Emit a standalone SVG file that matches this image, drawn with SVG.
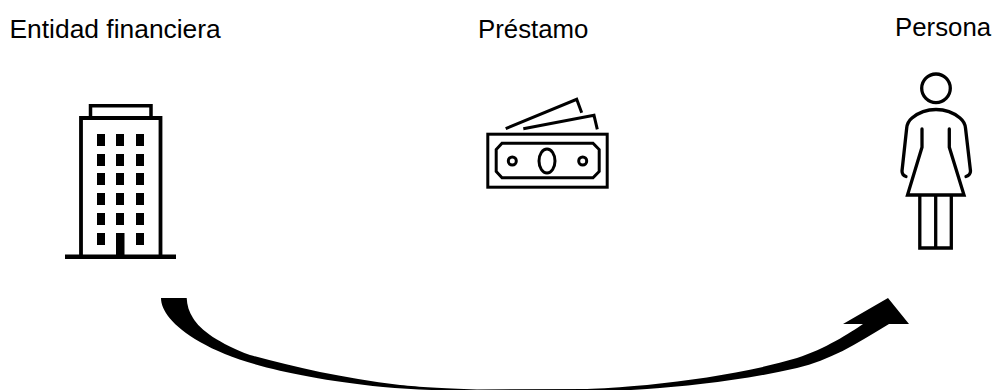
<svg xmlns="http://www.w3.org/2000/svg" width="995" height="390" viewBox="0 0 995 390">
<style>
text{font-family:"Liberation Sans",Arial,sans-serif;font-size:25.800px;fill:#000}
.l{fill:none;stroke:#000;stroke-width:3.300}
.b{fill:none;stroke:#000;stroke-width:3}
.w{fill:#000}
</style>
<rect width="995" height="390" fill="#fff"/>
<g id="entidad">
<text x="9.500" y="38" font-size="26.400" style="font-size:26.400px">Entidad financiera</text>
<rect class="w" x="65" y="254.500" width="111" height="4.500"/>
<path d="M81 255V118H160.500V255" fill="none" stroke="#000" stroke-width="3.800"/>
<path d="M90.500 116V105.700H151V116" fill="none" stroke="#000" stroke-width="3.500"/>
<g class="w">
<rect x="97" y="134" width="8" height="12"/><rect x="116" y="134" width="8" height="12"/><rect x="136" y="134" width="8" height="12"/>
<rect x="97" y="154" width="8" height="12"/><rect x="116" y="154" width="8" height="12"/><rect x="136" y="154" width="8" height="12"/>
<rect x="97" y="173" width="8" height="12"/><rect x="116" y="173" width="8" height="12"/><rect x="136" y="173" width="8" height="12"/>
<rect x="97" y="193" width="8" height="12"/><rect x="116" y="193" width="8" height="12"/><rect x="136" y="193" width="8" height="12"/>
<rect x="97" y="213" width="8" height="12"/><rect x="116" y="213" width="8" height="12"/><rect x="136" y="213" width="8" height="12"/>
<rect x="97" y="233" width="8" height="12"/><rect x="136" y="233" width="8" height="12"/>
<rect x="116" y="233" width="8.500" height="23"/>
</g>
</g>
<g id="prestamo">
<text x="478" y="37.500">Préstamo</text>
<rect class="b" x="487.800" y="134.200" width="119.400" height="53"/>
<path class="b" d="M502 143.200H593L599.200 149.500V171.500L593 177.800H502L496.200 171.500V149.500Z"/>
<ellipse class="b" cx="547" cy="161" rx="8" ry="12"/>
<circle class="b" cx="512.300" cy="161" r="4"/>
<circle class="b" cx="582.700" cy="161" r="4"/>
<path class="b" d="M505.700 128.700L576.700 99.300L581.700 112.700"/>
<path class="b" d="M523.300 128.700L594 115.300L597.300 129.300"/>
</g>
<g id="persona">
<text x="895" y="35.500">Persona</text>
<circle class="l" cx="936" cy="88.300" r="14.300"/>
<path class="l" stroke-linecap="round" stroke-linejoin="round" d="M906 176.500C903 175.500 902 173.500 902 171L906.700 128C907.200 123 909 120.500 912 118C918 113 927 109.500 936 109.500C945 109.500 954 113 960 118C963 120.500 965 123 965.500 128L970.500 171C970.500 173.500 969 175.500 966 176.500"/>
<path class="l" stroke-linecap="round" d="M922 129V147.300L907.500 195H964L949.300 147.300V129"/>
<path class="l" d="M919.800 195V248H951.300V195M935.700 195V248"/>
</g>
<g id="connectors">
<path class="w" d="M161 298C161 310 172 326 200 342C235 362 290 377 383 387C410 389.500 440 390.500 470 391L600 391C620 390.500 635 390 647 389C690 386 745 380 797 368C830 360 855 345 889 324H909L888 298L843 324H863C850 333 825 349 797 358C750 372 700 379 647 385C620 387.500 600 388.500 587 389L477 389.500C440 388 420 387 400 385C340 378 290 366 250 355C220 344 200 330 193 318C189 312 187 305 186.700 298Z"/>
</g>
</svg>
